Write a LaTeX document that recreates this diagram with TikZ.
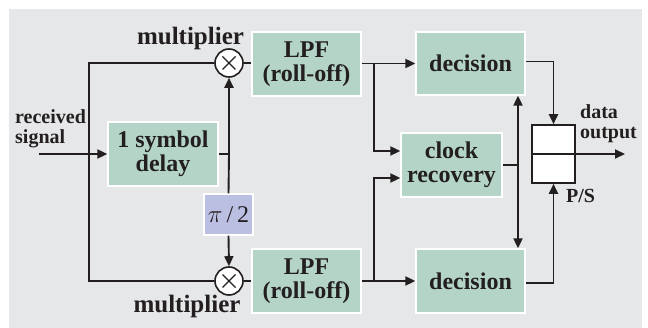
\documentclass[tikz,border=0pt]{standalone}
\usepackage{fontspec}
\setmainfont{Liberation Serif}
\usetikzlibrary{arrows.meta}
\definecolor{bggrey}{RGB}{230,231,233}
\definecolor{boxgreen}{RGB}{179,212,198}
\definecolor{phaseblue}{RGB}{187,191,225}
\definecolor{ink}{RGB}{35,31,32}
\begin{document}
\begin{tikzpicture}[x=1pt,y=-1pt,
  wire/.style={draw=ink, line width=1.9pt},
  arr/.style={wire, -{Triangle[length=10pt,width=9pt]}},
  dblarr/.style={wire, {Triangle[length=10pt,width=9pt]}-{Triangle[length=10pt,width=9pt]}},
  block/.style={draw=white, line width=1.3pt, fill=boxgreen, text=ink,
    font=\bfseries\fontsize{24}{24}\selectfont, align=center, inner sep=0pt},
  mult/.style={circle, draw=ink, line width=1.6pt, fill=white, minimum size=28pt, inner sep=0pt,
    path picture={\draw[ink, line width=1.3pt]
      ([shift={(-6.5pt,-6.5pt)}]path picture bounding box.center) -- ([shift={(6.5pt,6.5pt)}]path picture bounding box.center)
      ([shift={(-6.5pt,6.5pt)}]path picture bounding box.center) -- ([shift={(6.5pt,-6.5pt)}]path picture bounding box.center);}},
  lbl/.style={text=ink, font=\bfseries\fontsize{20}{20.5}\selectfont, inner sep=0pt, align=left},
]
\useasboundingbox (0,0) rectangle (648,328);
\fill[bggrey] (9,9) rectangle (642,328);

% multipliers
\node[mult] (mulT) at (229,63) {};
\node[mult] (mulB) at (229,281) {};

% processing blocks
\node[block, minimum width=110pt, minimum height=64pt] (delay) at (163,154) {1 symbol\\delay};
\node[draw=white, line width=1.3pt, fill=phaseblue, text=ink, inner sep=0pt,
      minimum width=49pt, minimum height=41pt, font=\fontsize{24}{24}\selectfont] (phase) at (228.5,214.5) {$\pi$\,/\,2};
\node[block, minimum width=109pt, minimum height=64pt] (lpfT) at (306.5,64) {LPF\\(roll-off)};
\node[block, minimum width=109pt, minimum height=64pt] (lpfB) at (306.5,281) {LPF\\(roll-off)};
\node[block, minimum width=109pt, minimum height=63pt] (decT) at (470.5,63.5) {decision};
\node[block, minimum width=109pt, minimum height=64pt] (decB) at (470.5,281) {decision};
\node[block, minimum width=101pt, minimum height=64pt] (clk) at (451.5,165) {clock\\recovery};

% parallel-to-serial register
\node[draw=ink, line width=1.6pt, fill=white, inner sep=0pt,
      minimum width=43pt, minimum height=58pt] (ps) at (553.5,154) {};
\draw[ink, line width=1.6pt] (ps.west) -- (ps.east);

% labels
\node[lbl, anchor=base, font=\bfseries\fontsize{25}{25}\selectfont] (mlT) at (190.5,45) {multiplier};
\node[lbl, anchor=base, font=\bfseries\fontsize{25}{25}\selectfont] (mlB) at (187,313) {multiplier};
\node[lbl, anchor=north west] (rx) at (15,109) {received\\signal};
\node[lbl, anchor=north west] (dout) at (580,104) {data\\output};
\node[lbl, anchor=north west] (pslbl) at (566,189) {P/S};

% input side
\coordinate (in) at (39,154);
\coordinate (lx) at (89,0);
\draw[arr] (in) -- (delay.west);
\draw[wire] (mulT.west) -- (mulT.west -| lx) -- (mulB.west -| lx) -- (mulB.west);
\draw[wire] (delay.east) -- (delay.east -| mulT.south) coordinate (tap);
\draw[arr] (tap) -- (mulT.south);
\draw[wire] (tap) -- (phase.north);
\draw[arr] (phase.south) -- (mulB.north);

% filters
\draw[wire] (mulT.east) -- (lpfT.west |- mulT.east);
\draw[wire] (mulB.east) -- (lpfB.west |- mulB.east);

% filter outputs and branches to clock recovery
\coordinate (bx) at (374,0);
\draw[arr] (lpfT.east |- decT.west) -- (decT.west);
\draw[arr] (lpfT.east -| bx) |- ([yshift=14pt]clk.west);
\draw[arr] (lpfB.east) -- (lpfB.east -| decB.west);
\draw[arr] (lpfB.east -| bx) |- ([yshift=-13pt]clk.west);

% clock distribution
\coordinate (cx) at (518,0);
\draw[dblarr] (decT.south -| cx) -- (decB.north -| cx);
\draw[wire] (clk.east) -- (clk.east -| cx);

% decisions into P/S and output
\draw[arr] ([yshift=2pt]decT.east) -| (ps.north);
\draw[arr] ([yshift=-2pt]decB.east) -| (ps.south);
\coordinate (out) at (625,154);
\draw[arr] (ps.east) -- (out);
\end{tikzpicture}
\end{document}
